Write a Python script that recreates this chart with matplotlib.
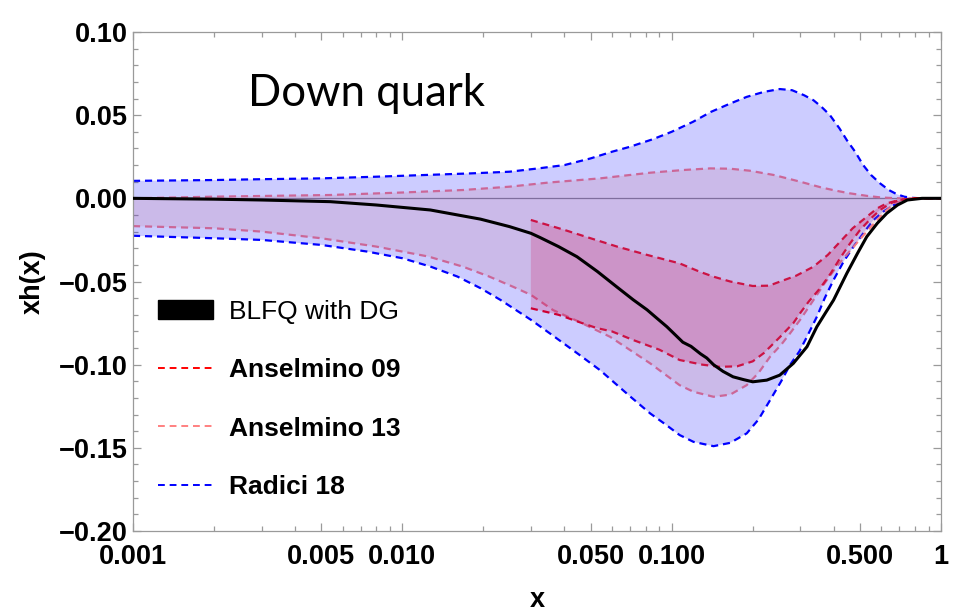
import matplotlib
matplotlib.use("Agg")
import matplotlib.pyplot as plt
from matplotlib.lines import Line2D
from matplotlib.patches import Patch
from matplotlib.ticker import FixedLocator, NullFormatter, MultipleLocator
import numpy as np

# ---------------- data ----------------
radici_up_x = [0.001, 0.002, 0.003, 0.005, 0.008, 0.012, 0.018, 0.025, 0.032, 0.04, 0.05, 0.06,
               0.07, 0.085, 0.1, 0.12, 0.14, 0.165, 0.19, 0.22, 0.252, 0.28, 0.31, 0.336, 0.36,
               0.387, 0.42, 0.447, 0.48, 0.514, 0.55, 0.594, 0.64, 0.685, 0.73, 0.78, 0.85, 0.92, 1.0]
radici_up_y = [0.0105, 0.011, 0.0115, 0.012, 0.013, 0.014, 0.015, 0.016, 0.018, 0.020, 0.024, 0.028,
               0.031, 0.0355, 0.040, 0.046, 0.052, 0.057, 0.061, 0.064, 0.0657, 0.065, 0.062, 0.059, 0.055,
               0.050, 0.042, 0.035, 0.028, 0.020, 0.014, 0.009, 0.005, 0.0025, 0.001, 0.0003, 0.0, 0.0, 0.0]

radici_lo_x = [0.001, 0.002, 0.003, 0.005, 0.0074, 0.01, 0.0127, 0.016, 0.0195, 0.0231, 0.03, 0.0353,
               0.045, 0.0542, 0.07, 0.0832, 0.095, 0.107, 0.1205, 0.143, 0.165, 0.19, 0.21, 0.232,
               0.255, 0.275, 0.298, 0.318, 0.346, 0.37, 0.399, 0.435, 0.473, 0.52, 0.561, 0.61, 0.67,
               0.75, 0.85, 1.0]
radici_lo_y = [-0.0225, -0.024, -0.025, -0.028, -0.032, -0.036, -0.041, -0.047, -0.054, -0.061, -0.073, -0.0812,
               -0.0936, -0.1033, -0.119, -0.1293, -0.136, -0.1423, -0.1464, -0.149, -0.147, -0.1413, -0.133, -0.1213,
               -0.110, -0.1002, -0.092, -0.0832, -0.0712, -0.060, -0.0491, -0.038, -0.0291, -0.020, -0.0131, -0.008, -0.004,
               -0.0005, 0.0, 0.0]

a13_up_x = [0.001, 0.002, 0.0054, 0.01, 0.0168, 0.025, 0.035, 0.0542, 0.0832, 0.11, 0.139, 0.165,
            0.195, 0.24, 0.3, 0.36, 0.41, 0.459, 0.53, 0.6, 0.7, 0.85, 1.0]
a13_up_y = [0.0, 0.001, 0.002, 0.0035, 0.005, 0.007, 0.0095, 0.012, 0.0154, 0.017, 0.018, 0.0178,
            0.0166, 0.014, 0.010, 0.0065, 0.0045, 0.003, 0.0015, 0.0005, 0.0, 0.0, 0.0]

a13_lo_x = [0.001, 0.002, 0.003, 0.005, 0.008, 0.0125, 0.0168, 0.021, 0.0258, 0.03, 0.0363, 0.045,
            0.059, 0.0832, 0.107, 0.1205, 0.143, 0.165, 0.19, 0.21, 0.232, 0.255, 0.275, 0.3, 0.336,
            0.37, 0.41, 0.446, 0.486, 0.53, 0.58, 0.62, 0.67, 0.73, 0.8, 1.0]
a13_lo_y = [-0.0167, -0.018, -0.020, -0.024, -0.029, -0.035, -0.0411, -0.047, -0.0532, -0.058, -0.0672, -0.074,
            -0.0832, -0.0992, -0.1123, -0.1163, -0.1193, -0.118, -0.1123, -0.105, -0.0952, -0.088, -0.0812, -0.073, -0.0612,
            -0.051, -0.041, -0.034, -0.027, -0.020, -0.013, -0.008, -0.003, -0.001, 0.0, 0.0]

a09_up_x = [0.03, 0.04, 0.05, 0.0627, 0.081, 0.107, 0.127, 0.143, 0.165, 0.2, 0.23, 0.252, 0.29,
            0.336, 0.38, 0.422, 0.47, 0.53, 0.58, 0.629, 0.7, 0.8, 1.0]
a09_up_y = [-0.013, -0.019, -0.024, -0.029, -0.034, -0.0391, -0.0441, -0.0471, -0.050, -0.0527, -0.0525, -0.0501, -0.0465,
            -0.0411, -0.034, -0.0261, -0.018, -0.0111, -0.006, -0.003, -0.001, 0.0, 0.0]

a09_lo_x = [0.03, 0.038, 0.0469, 0.0527, 0.06, 0.072, 0.09, 0.107, 0.13, 0.151, 0.175, 0.2, 0.22,
            0.252, 0.283, 0.30, 0.323, 0.356, 0.39, 0.422, 0.46, 0.5, 0.55, 0.594, 0.65, 0.7, 0.8, 1.0]
a09_lo_y = [-0.0661, -0.070, -0.0752, -0.078, -0.080, -0.0852, -0.091, -0.0972, -0.100, -0.1013, -0.101, -0.098, -0.093,
            -0.0835, -0.075, -0.069, -0.062, -0.054, -0.045, -0.036, -0.027, -0.0191, -0.012, -0.007, -0.003, -0.001, 0.0, 0.0]

blfq_x = [0.001, 0.002, 0.003, 0.0054, 0.008, 0.0127, 0.0195, 0.025, 0.03, 0.0324, 0.038, 0.0445, 0.053,
          0.0625, 0.072, 0.081, 0.088, 0.096, 0.103, 0.11, 0.118, 0.128, 0.135, 0.143, 0.155, 0.169, 0.185,
          0.2, 0.2255, 0.252, 0.283, 0.318, 0.346, 0.372, 0.399, 0.447, 0.49, 0.53, 0.58, 0.629, 0.69, 0.75,
          0.85, 1.0]
blfq_y = [0.0, -0.0005, -0.001, -0.002, -0.004, -0.007, -0.0125, -0.017, -0.021, -0.0235, -0.029, -0.0351, -0.044,
          -0.0532, -0.061, -0.067, -0.072, -0.0772, -0.082, -0.0865, -0.089, -0.0935, -0.096, -0.100, -0.104, -0.1073, -0.109,
          -0.1103, -0.1093, -0.1063, -0.0992, -0.0892, -0.0772, -0.069, -0.0612, -0.0451, -0.033, -0.0231, -0.015, -0.009, -0.004, -0.001,
          0.0, 0.0]

x_major_ticks = [0.001, 0.005, 0.01, 0.05, 0.1, 0.5, 1.0]
x_tick_labels = ["0.001", "0.005", "0.010", "0.050", "0.100", "0.500", "1"]
y_major_ticks = [-0.20, -0.15, -0.10, -0.05, 0.00, 0.05, 0.10]
y_tick_labels = ["\u22120.20", "\u22120.15", "\u22120.10", "\u22120.05", "0.00", "0.05", "0.10"]
legend_labels = ["BLFQ with DG", "Anselmino 09", "Anselmino 13", "Radici 18"]

# ---------------- styling ----------------
C_BLUE = "#0000ff"
C_A09 = "#ff0000"
C_A13 = "#ff8080"
F_A13 = "#c77291"
F_A09 = "#d20046"
FRAME = "#9a9a9a"
TFONT = "Liberation Sans"

fig = plt.figure(figsize=(9.55, 6.15), dpi=100)
ax = fig.add_axes([133 / 955, 1 - 531 / 615, 808 / 955, 499 / 615])
ax.set_xscale("log")
ax.set_xlim(0.001, 1.0)
ax.set_ylim(-0.20, 0.10)

dash = (0, (3.2, 2.2))
lw = 1.6
ax.axhline(0, color="#8a8a8a", lw=0.9, zorder=0.9)

ax.plot(radici_up_x, radici_up_y, color=C_BLUE, lw=lw, ls=dash, zorder=1)
ax.plot(radici_lo_x, radici_lo_y, color=C_BLUE, lw=lw, ls=dash, zorder=1)
ax.plot(a13_up_x, a13_up_y, color=C_A13, lw=lw, ls=dash, zorder=1)
ax.plot(a13_lo_x, a13_lo_y, color=C_A13, lw=lw, ls=dash, zorder=1)
ax.plot(a09_up_x, a09_up_y, color=C_A09, lw=lw, ls=dash, zorder=1)
ax.plot(a09_lo_x, a09_lo_y, color=C_A09, lw=lw, ls=dash, zorder=1)


def band(xu, yu, xl, yl, color, z):
    xs = np.array(list(xu) + list(xl)[::-1])
    ys = np.array(list(yu) + list(yl)[::-1])
    ax.fill(xs, ys, color=color, alpha=0.2, lw=0, zorder=z)


band(radici_up_x, radici_up_y, radici_lo_x, radici_lo_y, C_BLUE, 2)
band(a13_up_x, a13_up_y, a13_lo_x, a13_lo_y, F_A13, 2.1)
band(a09_up_x, a09_up_y, a09_lo_x, a09_lo_y, F_A09, 2.2)

ax.plot(blfq_x, blfq_y, color="black", lw=2.2, zorder=3)

# ticks
ax.xaxis.set_major_locator(FixedLocator(x_major_ticks))
ax.set_xticklabels(x_tick_labels)
minors = [m * 10.0 ** e for e in (-3, -2, -1) for m in (2, 3, 4, 6, 7, 8, 9)]
ax.xaxis.set_minor_locator(FixedLocator(minors))
ax.xaxis.set_minor_formatter(NullFormatter())
ax.yaxis.set_major_locator(FixedLocator(y_major_ticks))
ax.set_yticklabels(y_tick_labels)
ax.yaxis.set_minor_locator(MultipleLocator(0.01))

ax.tick_params(which="both", direction="in", top=True, right=True, color=FRAME, width=0.9)
ax.tick_params(which="major", length=6)
ax.tick_params(which="minor", length=3.5)
ax.tick_params(axis="y", which="major", pad=4)
ax.tick_params(axis="x", which="major", pad=9.5)
for lab in ax.get_xticklabels() + ax.get_yticklabels():
    lab.set_fontfamily(TFONT)
    lab.set_fontweight("bold")
    lab.set_fontsize(19.5)
for s in ax.spines.values():
    s.set_color(FRAME)
    s.set_linewidth(0.9)

ax.set_xlabel("x", fontfamily=TFONT, fontweight="bold", fontsize=19.5)
ax.xaxis.set_label_coords(0.5, -0.112)
ax.set_ylabel("xh(x)", fontfamily=TFONT, fontweight="bold", fontsize=19.5)
ax.yaxis.set_label_coords(-0.108, 0.5)

ax.text(0.142, 0.852, "Down quark", transform=ax.transAxes, fontfamily="Lato",
        fontsize=31.5, va="baseline", ha="left")

handles = [Patch(facecolor="black", edgecolor="black"),
           Line2D([0], [0], color=C_A09, lw=1.4, ls=(0, (3.5, 2.5))),
           Line2D([0], [0], color=C_A13, lw=1.4, ls=(0, (3.5, 2.5))),
           Line2D([0], [0], color=C_BLUE, lw=1.4, ls=(0, (3.5, 2.5)))]
leg = ax.legend(handles, legend_labels, loc="center left", bbox_to_anchor=(0.031, 0.2635),
                frameon=False, borderpad=0, borderaxespad=0, handlelength=2.1, handleheight=0.72,
                handletextpad=0.6, labelspacing=1.3,
                prop={"family": TFONT, "size": 19, "weight": "bold"})
leg.get_texts()[0].set_fontweight("normal")

fig.savefig("out.png", dpi=100)
